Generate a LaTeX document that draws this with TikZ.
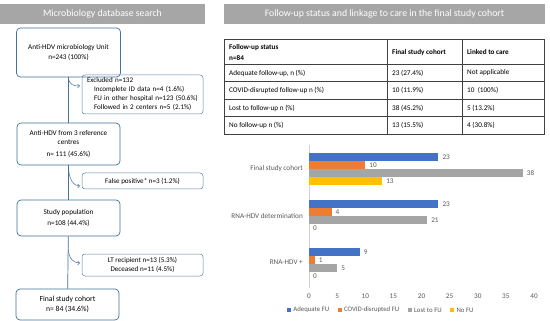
\documentclass[tikz,border=0pt]{standalone}
\usepackage{fontspec}
\setmainfont{Carlito}
\usetikzlibrary{arrows.meta,positioning,calc}
\definecolor{boxblue}{RGB}{65,113,156}
\definecolor{headgray}{RGB}{166,166,166}
\definecolor{tabline}{RGB}{64,64,64}
\definecolor{fublue}{RGB}{68,114,196}
\definecolor{fuorange}{RGB}{237,125,49}
\definecolor{fugray}{RGB}{165,165,165}
\definecolor{fuyellow}{RGB}{255,192,0}
\definecolor{labgray}{RGB}{89,89,89}

\begin{document}
\begin{tikzpicture}[x=1pt,y=-1pt,
    header/.style={fill=headgray, text=white, minimum height=20pt, inner sep=0pt, font=\fontsize{9.8}{11}\selectfont},
    mainbox/.style={draw=boxblue, line width=0.7pt, rounded corners=4pt, align=center, inner sep=0pt, font=\fontsize{7.2}{9}\selectfont},
    sidebox/.style={draw=boxblue!85, line width=0.5pt, rounded corners=3pt, minimum width=121pt, inner sep=0pt, font=\fontsize{7.1}{9}\selectfont},
    flow/.style={boxblue, line width=0.7pt},
    arr/.style={boxblue, line width=0.5pt, -{Straight Barb[length=2pt,width=3.5pt]}},
    cell/.style={anchor=west, inner sep=0pt, font=\fontsize{7.2}{9}\selectfont},
    chartlab/.style={text=labgray, inner sep=0pt, font=\fontsize{7.2}{8.5}\selectfont},
    legendlab/.style={text=labgray, inner sep=0pt, font=\fontsize{6.8}{8}\selectfont},
    legsq/.style={minimum size=4pt, inner sep=0pt}]
    \useasboundingbox[fill=white] (0,0) rectangle (550,321);

    % Headers
    \node[header, minimum width=205pt] (dbhead) at (102.5,14) {Microbiology database search};
    \node[header, minimum width=321pt] (fuhead) at (384.5,14) {Follow-up status and linkage to care in the final study cohort};

    % Flow chart, main column
    \node[mainbox, minimum width=104pt, minimum height=49pt] (unit) at (68.5,52.5)
        {Anti-HDV microbiology Unit\\[1pt] n=243 (100\%)};
    \node[mainbox, minimum width=103pt, minimum height=42pt] (centres) at (68.5,144)
        {Anti-HDV from 3 reference\\ centres\\[3pt] n= 111 (45.6\%)};
    \node[mainbox, minimum width=103pt, minimum height=36pt] (studypop) at (68.5,218)
        {Study population\\[2pt] n=108 (44.4\%)};
    \node[mainbox, minimum width=103pt, minimum height=31pt, font=\fontsize{7.7}{10}\selectfont] (final) at (67.5,304.5)
        {Final study cohort\\ n= 84 (34.6\%)};
    \draw[flow] (unit) -- (centres);
    \draw[flow] (centres) -- (studypop);
    \draw[flow] (studypop) -- (final);

    % Exclusions
    \node[sidebox, minimum height=39pt, text width=111pt, align=left, inner xsep=5pt] (excl) at (142.5,94.5)
        {Excluded n=132\\
         \hspace*{7pt}Incomplete ID data n=4 (1.6\%)\\
         \hspace*{7pt}FU in other hospital n=123 (50.6\%)\\
         \hspace*{7pt}Followed in 2 centers n=5 (2.1\%)};
    \node[sidebox, minimum height=16pt, align=center] (falsepos) at (142.5,181)
        {False positive* n=3 (1.2\%)};
    \node[sidebox, minimum height=22pt, align=center] (ltdead) at (142.5,265)
        {LT recipient n=13 (5.3\%)\\ Deceased n=11 (4.5\%)};

    \coordinate (s1) at (68.5,77);
    \coordinate (e1) at (80,86);
    \draw[arr] (s1) .. controls +(0,8) and +(-6,0) .. (e1);
    \coordinate (s2) at (68.5,166);
    \coordinate (e2) at (80,186);
    \draw[arr] (s2) .. controls +(0,14) and +(-6,0) .. (e2);
    \coordinate (s3) at (68.5,249);
    \coordinate (e3) at (80,263);
    \draw[arr] (s3) .. controls +(0,10) and +(-6,0) .. (e3);

    % Table
    \draw[tabline, line width=0.8pt] (224,39) rectangle (544,134.5);
    \foreach \y in {64,81.5,99,116.5}
        \draw[tabline, line width=0.6pt] (224,\y) -- (544,\y);
    \draw[tabline, line width=0.6pt] (387,39) -- (387,134.5);
    \draw[tabline, line width=0.6pt] (462,39) -- (462,134.5);

    \node[cell, font=\fontsize{7.2}{9}\selectfont\bfseries] (hstatus) at (229,48) {Follow-up status};
    \node[cell, font=\fontsize{7.2}{9}\selectfont\bfseries] (hn) at (229,58) {n=84};
    \node[cell, font=\fontsize{7.2}{9}\selectfont\bfseries] (hcohort) at (392,52.5) {Final study cohort};
    \node[cell, font=\fontsize{7.2}{9}\selectfont\bfseries] (hlinked) at (467,52.5) {Linked to care};

    \node[cell] (r1a) at (229,73) {Adequate follow-up, n (\%)};
    \node[cell] (r1b) at (392,73) {23 (27.4\%)};
    \node[cell] (r1c) at (467,73) {Not applicable};
    \node[cell] (r2a) at (229,90.5) {COVID-disrupted follow-up n (\%)};
    \node[cell] (r2b) at (392,90.5) {10 (11.9\%)};
    \node[cell] (r2c) at (467,90.5) {10\ \ (100\%)};
    \node[cell] (r3a) at (229,108) {Lost to follow-up n (\%)};
    \node[cell] (r3b) at (392,108) {38 (45.2\%)};
    \node[cell] (r3c) at (467,108) {5 (13.2\%)};
    \node[cell] (r4a) at (229,125.5) {No follow-up n (\%)};
    \node[cell] (r4b) at (392,125.5) {13 (15.5\%)};
    \node[cell] (r4c) at (467,125.5) {4 (30.8\%)};

    % Bar chart (5.625pt per patient, axis at x=309)
    \draw[gray!35, line width=0.5pt] (309,145) -- (309,288);
    \node[chartlab, anchor=east] (gcohort) at (303,169) {Final study cohort};
    \node[chartlab, anchor=east] (gdeterm) at (303,216.5) {RNA-HDV determination};
    \node[chartlab, anchor=east] (gpos) at (303,262) {RNA-HDV +};

    \foreach \v/\y/\c in {23/153/fublue, 10/161/fuorange, 38/169/fugray, 13/177/fuyellow,
                          23/200.5/fublue, 4/208.5/fuorange, 21/216.5/fugray, 0/224.5/fuyellow,
                          9/248/fublue, 1/256/fuorange, 5/264/fugray, 0/272/fuyellow}{
        \fill[\c] (309,\y) rectangle ++(\v*5.625,7.6);
        \node[chartlab, anchor=west] at (309+\v*5.625+4,\y+3.8) {\v};
    }

    \foreach \t in {0,5,...,40}
        \node[chartlab] at (309+\t*5.625,296) {\t};

    % Legend
    \node[legsq, fill=fublue] (sqadeq) at (289,310) {};
    \node[legendlab, right=2pt of sqadeq] (lgadeq) {Adequate FU};
    \node[legsq, fill=fuorange, right=8pt of lgadeq] (sqcovid) {};
    \node[legendlab, right=2pt of sqcovid] (lgcovid) {COVID-disrupted FU};
    \node[legsq, fill=fugray, right=8pt of lgcovid] (sqlost) {};
    \node[legendlab, right=2pt of sqlost] (lglost) {Lost to FU};
    \node[legsq, fill=fuyellow, right=8pt of lglost] (sqnofu) {};
    \node[legendlab, right=2pt of sqnofu] (lgnofu) {No FU};
\end{tikzpicture}
\end{document}
